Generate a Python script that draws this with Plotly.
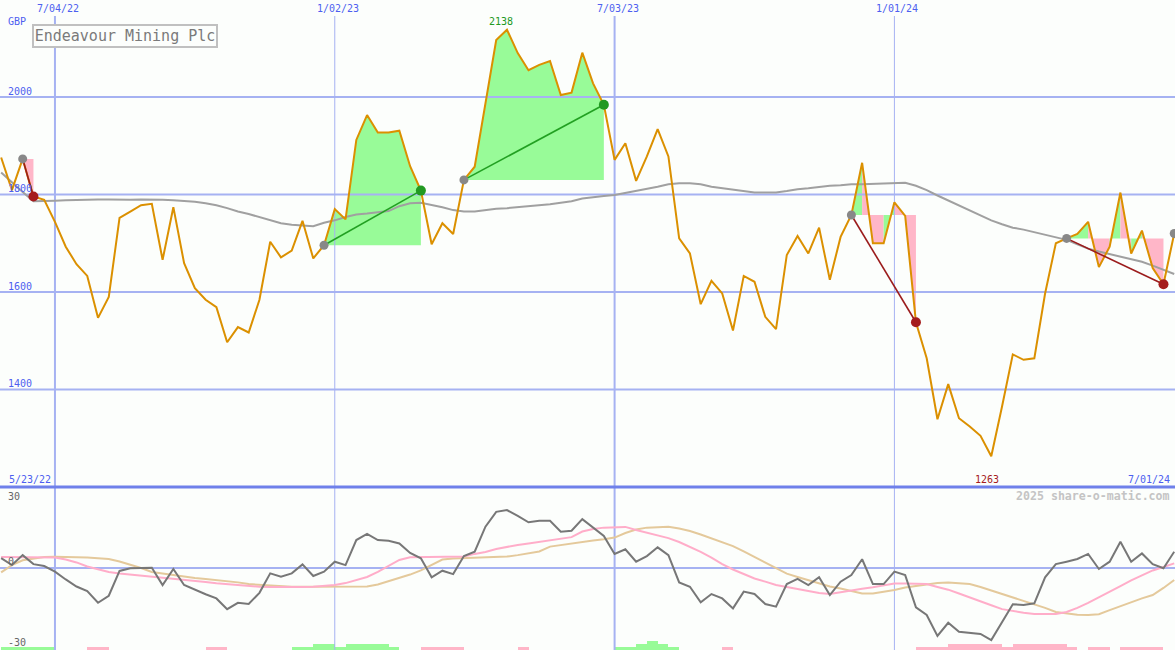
import pandas as pd
import plotly.graph_objects as go

# ---------------- data ----------------
week_dates = pd.date_range("2022-05-30", periods=110, freq="7D")

price = [1876, 1809, 1873, 1796, 1789, 1744, 1693, 1657, 1633, 1547,
         1590, 1752, 1765, 1778, 1781, 1666, 1774, 1659, 1608, 1584,
         1569, 1497, 1528, 1517, 1584, 1703, 1671, 1685, 1746, 1669,
         1696, 1770, 1749, 1912, 1963, 1927, 1927, 1931, 1858, 1808,
         1698, 1741, 1719, 1830, 1857, 1988, 2117, 2138, 2090, 2055,
         2066, 2074, 2004, 2009, 2091, 2028, 1984, 1871, 1905, 1828,
         1878, 1934, 1878, 1710, 1679, 1575, 1623, 1597, 1521, 1633,
         1621, 1549, 1524, 1676, 1715, 1679, 1732, 1625, 1713, 1758,
         1865, 1700, 1700, 1784, 1756, 1538, 1464, 1339, 1411, 1341,
         1324, 1305, 1263, 1365, 1472, 1461, 1464, 1597, 1700, 1710,
         1719, 1744, 1651, 1693, 1804, 1679, 1726, 1649, 1616, 1720]

moving_avg = [1845, 1826, 1805, 1786, 1786, 1787, 1788, 1789, 1790, 1790,
              1790, 1789, 1789, 1790, 1790, 1789, 1788, 1787, 1785, 1782,
              1778, 1772, 1765, 1760, 1754, 1748, 1741, 1738, 1736, 1735,
              1742, 1747, 1754, 1759, 1761, 1763, 1766, 1776, 1782, 1783,
              1779, 1774, 1768, 1765, 1765, 1768, 1771, 1772, 1774, 1775,
              1778, 1780, 1783, 1786, 1792, 1795, 1797, 1799, 1803, 1807,
              1812, 1816, 1821, 1823, 1823, 1821, 1816, 1813, 1809, 1806,
              1804, 1804, 1804, 1807, 1811, 1813, 1816, 1818, 1819, 1821,
              1821, 1822, 1822, 1824, 1824, 1818, 1809, 1798, 1788, 1777,
              1768, 1757, 1747, 1739, 1732, 1728, 1723, 1717, 1712, 1707,
              1698, 1689, 1683, 1678, 1672, 1667, 1662, 1654, 1646, 1637]

momentum = [4.1, 1.2, 5.3, 1.6, 0.8, -1.5, -4.7, -7.6, -9.5, -14.3,
            -11.4, -1.2, -0.1, 0.1, 0.1, -7.0, -0.4, -7.0, -9.0, -10.8,
            -12.5, -16.9, -14.3, -14.8, -10.2, -2.2, -3.6, -2.2, 1.5, -3.3,
            -1.5, 2.6, 1.2, 11.5, 14.0, 11.5, 11.2, 10.1, 6.2, 4.0,
            -3.8, -1.1, -2.5, 4.9, 6.7, 17.0, 23.1, 23.8, 21.4, 18.8,
            19.4, 19.4, 14.9, 15.3, 20.1, 16.6, 13.2, 5.8, 7.7, 2.6,
            4.9, 8.5, 5.3, -5.9, -7.7, -14.1, -10.7, -12.5, -16.6, -9.7,
            -10.7, -14.8, -15.9, -6.6, -4.5, -7.0, -3.8, -11.1, -5.6, -2.9,
            3.6, -6.6, -6.6, -1.5, -2.9, -16.2, -19.3, -27.9, -22.5, -26.2,
            -26.6, -27.1, -29.6, -22.1, -14.9, -15.2, -14.5, -3.8, 1.6, 2.6,
            3.7, 5.8, -0.4, 2.6, 10.8, 2.6, 6.0, 1.6, -0.1, 6.7]

momentum_fast = [4.5, 4.5, 4.5, 4.5, 4.5, 4.3, 3.5, 2.3, 0.6, -0.6,
                 -1.6, -2.3, -2.7, -3.3, -3.7, -4.1, -4.5, -4.9, -5.3, -5.8,
                 -6.3, -6.7, -7.0, -7.4, -7.7, -7.8, -7.9, -7.9, -7.8, -7.7,
                 -7.4, -7.0, -6.2, -4.9, -3.7, -1.6, 0.8, 3.3, 4.4, 4.4,
                 4.4, 4.4, 4.4, 4.7, 5.8, 6.6, 7.8, 8.8, 9.5, 10.1,
                 10.8, 11.4, 11.9, 12.7, 15.0, 16.0, 16.6, 16.9, 16.9, 15.6,
                 14.6, 13.6, 12.3, 10.7, 8.8, 6.6, 4.3, 1.6, -0.6, -2.6,
                 -4.3, -5.6, -7.0, -7.8, -8.6, -9.4, -10.3, -10.7, -9.9, -9.2,
                 -8.5, -7.9, -7.3, -6.4, -6.4, -6.5, -6.6, -7.8, -8.9, -10.5,
                 -12.0, -13.6, -15.3, -16.9, -17.7, -18.4, -18.9, -18.9, -18.9, -18.1,
                 -16.4, -14.3, -11.9, -9.7, -7.4, -5.1, -3.1, -1.0, 0.4, 1.9]

momentum_slow = [-1.8, 1.2, 3.2, 3.9, 4.5, 4.6, 4.6, 4.5, 4.3, 4.0,
                 3.7, 2.7, 1.5, 0.0, -1.6, -2.3, -2.9, -3.6, -4.1, -4.5,
                 -4.9, -5.5, -5.9, -6.6, -6.9, -7.2, -7.6, -7.7, -7.7, -7.7,
                 -7.7, -7.7, -7.7, -7.7, -7.6, -6.8, -5.5, -3.9, -2.7, -1.0,
                 1.2, 3.5, 3.9, 4.1, 4.2, 4.3, 4.4, 4.7, 5.3, 6.0,
                 6.8, 8.8, 9.5, 10.1, 10.7, 11.3, 11.8, 12.5, 14.4, 15.8,
                 16.6, 16.9, 17.0, 16.2, 15.2, 13.8, 12.3, 10.7, 9.0, 6.8,
                 4.5, 2.1, -0.2, -2.3, -3.7, -4.9, -6.4, -7.6, -8.4, -9.5,
                 -10.5, -10.5, -9.9, -9.0, -8.0, -7.4, -6.8, -6.2, -6.0, -6.4,
                 -6.6, -7.8, -9.2, -10.8, -12.1, -13.6, -15.0, -16.4, -18.1, -18.7,
                 -19.2, -19.3, -19.0, -17.3, -15.6, -14.0, -12.5, -11.1, -8.2, -4.9]

signal_level = [1, 1, 1, 1, 1, 0, 0, 0, -1, -1,
                0, 0, 0, 0, 0, 0, 0, 0, 0, -1,
                -1, 0, 0, 0, 0, 0, 0, 1, 1, 2,
                2, 1, 2, 2, 2, 2, 1, 0, 0, -1,
                -1, -1, -1, 0, 0, 0, 0, 0, -1, 0,
                0, 0, 0, 0, 0, 0, 0, 1, 1, 2,
                3, 2, 1, 0, 0, 0, 0, -1, 0, 0,
                0, 0, 0, 0, 0, 0, 0, 0, 0, 0,
                0, 0, 0, 0, 0, -1, -1, -1, -2, -2,
                -2, -2, -2, -1, -2, -2, -2, -2, -2, -1,
                0, -1, -1, 0, -1, -1, -1, -1, 0, 0]

trade_entries = ["2022-06-13", "2022-12-26", "2023-03-27", "2023-12-04", "2024-04-22"]
trade_exits = ["2022-06-20", "2023-02-27", "2023-06-26", "2024-01-15", "2024-06-24"]
open_entry = "2024-07-01"

stock_name = "Endeavour Mining Plc"
currency = "GBP"
price_ticks = [2000, 1800, 1600, 1400]
osc_ticks = [30, 0, -30]
date_lines = [("2022-07-04", "7/04/22", 2), ("2023-01-02", "1/02/23", 1),
              ("2023-07-03", "7/03/23", 2), ("2024-01-01", "1/01/24", 1)]
start_label = "5/23/22"
end_label = "7/01/24"
watermark = "2025 share-o-matic.com"

# ---------------- styling ----------------
W, H = 1175, 650
BG = "#fcfefc"
GRID = "#a6b2f2"
SEP = "#6f80ea"
BLUE_TXT = "#4d5ff0"
GREEN_FILL = "#98fb98"
PINK_FILL = "#ffb6c8"
PRICE_C = "#db9000"
MA_C = "#a0a0a0"
MONO = "DejaVu Sans Mono"

x_range = [pd.Timestamp("2022-05-29 06:00"), pd.Timestamp("2024-07-01 12:00")]
y_range = [1200, 2199]
y2_range = [-33.7, 33.3]
split = 163 / H  # bottom panel height fraction

fig = go.Figure()
idx = {d: i for i, d in enumerate(week_dates)}

# trade fills (between price and entry level), coloured per segment end
for e, x in zip(trade_entries, trade_exits):
    ei, xi = idx[pd.Timestamp(e)], idx[pd.Timestamp(x)]
    E = price[ei]
    seg_col = [GREEN_FILL if price[j + 1] > E else PINK_FILL for j in range(ei, xi)]
    j = 0
    while j < len(seg_col):
        k = j
        while k + 1 < len(seg_col) and seg_col[k + 1] == seg_col[j]:
            k += 1
        a, b = ei + j, ei + k + 1
        xs = [week_dates[a]] + list(week_dates[a:b + 1]) + [week_dates[b]]
        ys = [E] + price[a:b + 1] + [E]
        fig.add_trace(go.Scatter(x=xs, y=ys, mode="lines", fill="toself",
                                 fillcolor=seg_col[j], line=dict(width=0),
                                 hoverinfo="skip", showlegend=False))
        j = k + 1

# gridlines (drawn over the fills, under the price line)
for v in price_ticks:
    fig.add_trace(go.Scatter(x=x_range, y=[v, v], mode="lines",
                             line=dict(color=GRID, width=2), hoverinfo="skip", showlegend=False))
top_val = y_range[1] - 16 * (y_range[1] - y_range[0]) / (H * (1 - split))
for d, _, w in date_lines:
    fig.add_trace(go.Scatter(x=[d, d], y=[y_range[0], top_val], mode="lines",
                             line=dict(color=GRID, width=w), hoverinfo="skip", showlegend=False))
    fig.add_trace(go.Scatter(x=[d, d], y=y2_range, mode="lines", xaxis="x2", yaxis="y2",
                             line=dict(color=GRID, width=w), hoverinfo="skip", showlegend=False))
fig.add_trace(go.Scatter(x=x_range, y=[0, 0], mode="lines", xaxis="x2", yaxis="y2",
                         line=dict(color=GRID, width=2), hoverinfo="skip", showlegend=False))

# moving average and price
fig.add_trace(go.Scatter(x=week_dates, y=moving_avg, mode="lines",
                         line=dict(color=MA_C, width=2), hoverinfo="skip", showlegend=False))
fig.add_trace(go.Scatter(x=week_dates, y=price, mode="lines",
                         line=dict(color=PRICE_C, width=2), hoverinfo="skip", showlegend=False))

# trade lines and markers
for e, x in zip(trade_entries, trade_exits):
    ei, xi = idx[pd.Timestamp(e)], idx[pd.Timestamp(x)]
    win = price[xi] > price[ei]
    lc = "#22a022" if win else "#9b1c1c"
    mc = "#229922" if win else "#a51c1c"
    fig.add_trace(go.Scatter(x=[week_dates[ei], week_dates[xi]], y=[price[ei], price[xi]],
                             mode="lines", line=dict(color=lc, width=1.6),
                             hoverinfo="skip", showlegend=False))
    fig.add_trace(go.Scatter(x=[week_dates[ei]], y=[price[ei]], mode="markers",
                             marker=dict(color="#888888", size=9, line=dict(width=0)),
                             hoverinfo="skip", showlegend=False))
    fig.add_trace(go.Scatter(x=[week_dates[xi]], y=[price[xi]], mode="markers",
                             marker=dict(color=mc, size=10, line=dict(width=0)),
                             hoverinfo="skip", showlegend=False))
oi = idx[pd.Timestamp(open_entry)]
fig.add_trace(go.Scatter(x=[week_dates[oi]], y=[price[oi]], mode="markers",
                         marker=dict(color="#888888", size=9, line=dict(width=0)),
                         hoverinfo="skip", showlegend=False))

# bottom panel: signal bars
unit = 3 * (y2_range[1] - y2_range[0]) / 163  # 3 px per level
fig.add_trace(go.Bar(x=week_dates, y=[abs(s) * unit for s in signal_level],
                     base=y2_range[0], width=7 * 86400000, offset=0,
                     marker=dict(color=[GREEN_FILL if s > 0 else PINK_FILL for s in signal_level],
                                 line=dict(width=0)),
                     xaxis="x2", yaxis="y2", hoverinfo="skip", showlegend=False))
fig.add_trace(go.Scatter(x=week_dates, y=momentum_slow, mode="lines", xaxis="x2", yaxis="y2",
                         line=dict(color="#e4c99b", width=2), hoverinfo="skip", showlegend=False))
fig.add_trace(go.Scatter(x=week_dates, y=momentum_fast, mode="lines", xaxis="x2", yaxis="y2",
                         line=dict(color="#ffadc9", width=2), hoverinfo="skip", showlegend=False))
fig.add_trace(go.Scatter(x=week_dates, y=momentum, mode="lines", xaxis="x2", yaxis="y2",
                         line=dict(color="#777777", width=2), hoverinfo="skip", showlegend=False))

# ---------------- annotations ----------------
ann = []
def py(p):
    return 1 - p / H

for d, lab, _ in date_lines:
    ann.append(dict(x=d, xref="x", y=py(9), yref="paper", text=lab, showarrow=False,
                    xanchor="center", yanchor="middle", xshift=3,
                    font=dict(family=MONO, size=10, color=BLUE_TXT)))
ann.append(dict(x=6 / W, xref="paper", y=py(21.5), yref="paper", text=currency, showarrow=False,
                xanchor="left", yanchor="middle", font=dict(family=MONO, size=10, color=BLUE_TXT)))
for v in price_ticks:
    ann.append(dict(x=6 / W, xref="paper", y=v, yref="y", text=str(v), showarrow=False,
                    xanchor="left", yanchor="middle", yshift=6,
                    font=dict(family=MONO, size=10, color=BLUE_TXT)))
osc_shift = {30: -1.5, 0: 6.5, -30: -1}
for v in osc_ticks:
    ann.append(dict(x=6 / W, xref="paper", y=v, yref="y2", text=str(v), showarrow=False,
                    xanchor="left", yanchor="middle", yshift=osc_shift[v],
                    font=dict(family=MONO, size=10, color="#666666")))
ann.append(dict(x=7 / W, xref="paper", y=py(479), yref="paper", text=start_label, showarrow=False,
                xanchor="left", yanchor="middle", font=dict(family=MONO, size=10, color=BLUE_TXT)))
ann.append(dict(x=1172 / W, xref="paper", y=py(479), yref="paper", text=end_label, showarrow=False,
                xanchor="right", yanchor="middle", font=dict(family=MONO, size=10, color=BLUE_TXT)))
ann.append(dict(x=1172 / W, xref="paper", y=py(496), yref="paper", text="<b>" + watermark + "</b>",
                showarrow=False, xanchor="right", yanchor="middle",
                font=dict(family=MONO, size=11.6, color="#c4c4c4")))
imax = max(range(len(price)), key=lambda i: price[i])
imin = min(range(len(price)), key=lambda i: price[i])
ann.append(dict(x=week_dates[imax], y=price[imax], xref="x", yref="y", text=str(price[imax]),
                showarrow=False, xanchor="center", yanchor="middle", xshift=-6, yshift=8.5,
                font=dict(family=MONO, size=10, color="#229922")))
ann.append(dict(x=week_dates[imin], y=price[imin], xref="x", yref="y", text=str(price[imin]),
                showarrow=False, xanchor="center", yanchor="middle", xshift=-4, yshift=-23,
                font=dict(family=MONO, size=10, color="#a51c1c")))
ann.append(dict(x=32 / W, xref="paper", y=py(24), yref="paper", text=stock_name,
                showarrow=False, xanchor="left", yanchor="top", width=182, height=20,
                bordercolor="#c0c0c0", borderwidth=2, borderpad=0, bgcolor=BG,
                font=dict(family=MONO, size=15, color="#7a7a7a")))

fig.update_layout(
    width=W, height=H, margin=dict(l=0, r=0, t=0, b=0),
    paper_bgcolor=BG, plot_bgcolor=BG, showlegend=False, bargap=0,
    xaxis=dict(domain=[0, 1], range=x_range, visible=False, anchor="y"),
    yaxis=dict(domain=[split, 1], range=y_range, visible=False, anchor="x"),
    xaxis2=dict(domain=[0, 1], range=x_range, visible=False, anchor="y2"),
    yaxis2=dict(domain=[0, split], range=y2_range, visible=False, anchor="x2"),
    annotations=ann,
    shapes=[dict(type="line", xref="paper", yref="paper", x0=0, x1=1, y0=split, y1=split,
                 line=dict(color=SEP, width=3), layer="above")],
)

fig.write_html("out.html", config={"displayModeBar": False},
               post_script="document.body.style.margin='0';document.body.style.overflow='hidden';document.body.style.background='" + BG + "';")
